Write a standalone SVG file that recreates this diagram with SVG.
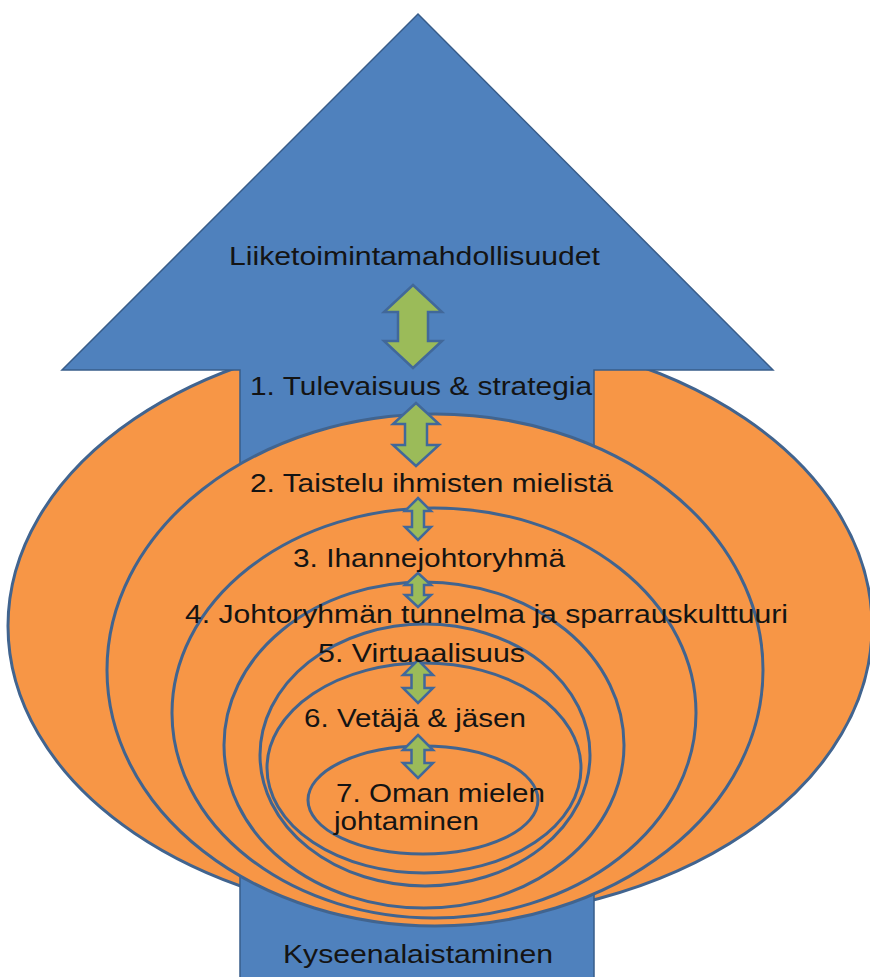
<svg xmlns="http://www.w3.org/2000/svg" width="870" height="977" viewBox="0 0 870 977">
<style>
.ring{fill:#F79646;stroke:#41648F;stroke-width:3}
.big{fill:#4F81BD;stroke:#385D8A;stroke-width:1.5}
.dbl{fill:#9BBB59;stroke:#41689A;stroke-width:2.5;stroke-linejoin:miter}
.t{font-family:"Liberation Sans",Arial,sans-serif;font-size:26px;fill:#141414}
</style>
<rect width="870" height="977" fill="#FFFFFF"/>
<g id="ring1"><ellipse class="ring" cx="440" cy="626" rx="432" ry="293"/></g>
<g id="bigArrow"><polygon class="big" points="418,14 773,370 594,370 594,990 240,990 240,370 62,370"/></g>
<g id="ring2"><ellipse class="ring" cx="435" cy="670" rx="328" ry="256"/></g>
<g id="ring3"><ellipse class="ring" cx="434" cy="713" rx="262" ry="205"/></g>
<g id="ring4"><ellipse class="ring" cx="424" cy="745" rx="200" ry="163"/></g>
<g id="ring5"><ellipse class="ring" cx="425" cy="755" rx="165" ry="131"/></g>
<g id="ring6"><ellipse class="ring" cx="424" cy="768" rx="157" ry="105"/></g>
<g id="ring7"><ellipse class="ring" cx="423" cy="800" rx="115" ry="54"/></g>
<g id="connectors">
<path class="dbl" d="M413,285 L442,312 L428,312 L428,341 L442,341 L413,368 L384,341 L398,341 L398,312 L384,312 Z"/>
<path class="dbl" d="M416,403 L439,424 L427,424 L427,445 L439,445 L416,466 L393,445 L405,445 L405,424 L393,424 Z"/>
<path class="dbl" d="M418,498 L431,511 L424,511 L424,527 L431,527 L418,540 L405,527 L412,527 L412,511 L405,511 Z"/>
<path class="dbl" d="M418,573 L431,585 L424,585 L424,595 L431,595 L418,607 L405,595 L412,595 L412,585 L405,585 Z"/>
<path class="dbl" d="M418,660 L433,675 L424.5,675 L424.5,688 L433,688 L418,703 L403,688 L411.5,688 L411.5,675 L403,675 Z"/>
<path class="dbl" d="M418,735 L433,750 L424.5,750 L424.5,763 L433,763 L418,778 L403,763 L411.5,763 L411.5,750 L403,750 Z"/>
</g>
<g id="labels">
<text class="t" x="229" y="265" textLength="371" lengthAdjust="spacingAndGlyphs">Liiketoimintamahdollisuudet</text>
<text class="t" x="250" y="395" textLength="342" lengthAdjust="spacingAndGlyphs">1. Tulevaisuus &amp; strategia</text>
<text class="t" x="250" y="492" textLength="363" lengthAdjust="spacingAndGlyphs">2. Taistelu ihmisten mielistä</text>
<text class="t" x="293" y="567" textLength="272" lengthAdjust="spacingAndGlyphs">3. Ihannejohtoryhmä</text>
<text class="t" x="185" y="623" textLength="603" lengthAdjust="spacingAndGlyphs">4. Johtoryhmän tunnelma ja sparrauskulttuuri</text>
<text class="t" x="318" y="662" textLength="207" lengthAdjust="spacingAndGlyphs">5. Virtuaalisuus</text>
<text class="t" x="304" y="727" textLength="222" lengthAdjust="spacingAndGlyphs">6. Vetäjä &amp; jäsen</text>
<text class="t" x="336" y="802" textLength="209" lengthAdjust="spacingAndGlyphs">7. Oman mielen</text>
<text class="t" x="334" y="830" textLength="145" lengthAdjust="spacingAndGlyphs">johtaminen</text>
<text class="t" x="283" y="963" textLength="270" lengthAdjust="spacingAndGlyphs">Kyseenalaistaminen</text>
</g>
</svg>
